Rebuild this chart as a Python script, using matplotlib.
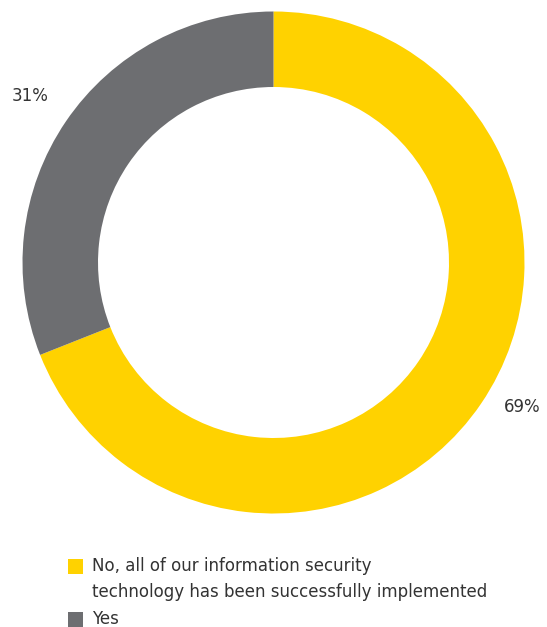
import matplotlib.pyplot as plt
from matplotlib.patches import Rectangle

# Ответы на вопрос (доли в %)
labels = ["No, all of our information security\ntechnology has been successfully implemented", "Yes"]
values = [69, 31]
colors = ["#FFD200", "#6D6E71"]
pct_labels = ["69%", "31%"]

W, H = 547, 627
fig = plt.figure(figsize=(W / 100, H / 100), dpi=100)
ax = fig.add_axes([0, 0, 1, 1])

# Кольцевая диаграмма в пиксельных координатах
cx, cy = 273.5, H - 262.5
R = 251
wedges, _ = ax.pie(values, colors=colors, startangle=90, counterclock=False,
                   center=(cx, cy), radius=R, frame=True,
                   wedgeprops=dict(width=R - 175.5, linewidth=0))
ax.set_xlim(0, W)
ax.set_ylim(0, H)
ax.set_aspect('equal')
ax.axis('off')

txt_color = "#333333"
ax.text(522, H - 407, pct_labels[0], fontsize=12, color=txt_color, ha='center', va='center')
ax.text(30, H - 96, pct_labels[1], fontsize=12, color=txt_color, ha='center', va='center')

# Легенда: квадратик + подпись (многострочные подписи построчно)
sq = 15
line_step = 26
legend_rows = [(H - 566, 0), (H - 619, 1)]
for y, i in legend_rows:
    ax.add_patch(Rectangle((68, y - 7.5), sq, sq, color=colors[i], lw=0))
    for k, line in enumerate(labels[i].split("\n")):
        ax.text(92, y - k * line_step, line, fontsize=12, color=txt_color,
                ha='left', va='center')

fig.savefig("out.png", dpi=100, facecolor='white')
